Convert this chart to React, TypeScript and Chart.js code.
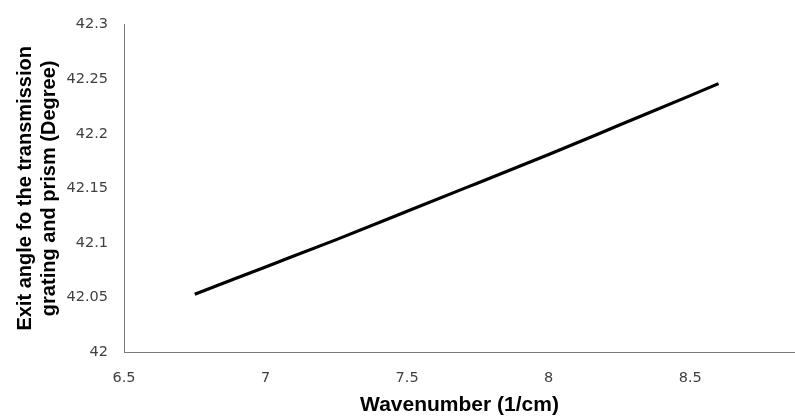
import React, { useEffect, useRef } from "react";
import { Chart, registerables } from "chart.js";

Chart.register(...registerables);

const wavenumbers = [6.75, 7.0, 7.25, 7.5, 7.75, 8.0, 8.25, 8.5, 8.6];
const exitAngles = [42.053, 42.078, 42.103, 42.129, 42.155, 42.181, 42.208, 42.235, 42.246];

const xMin = 6.5;
const xMax = 8.87;
const xStep = 0.5;
const xLastTick = 8.5;
const yMin = 42;
const yMax = 42.3;
const yStep = 0.05;

const xTitle = "Wavenumber (1/cm)";
const yTitle = ["Exit angle fo the transmission", "grating and prism (Degree)"];

export default function App() {
  const ref = useRef<HTMLCanvasElement | null>(null);

  useEffect(() => {
    document.body.style.margin = "0";
    const canvas = ref.current;
    if (!canvas) return;
    const tickFont = { family: "'DejaVu Sans', sans-serif", size: 14.5 };
    const xTitleFont = { family: "'Liberation Sans', Arial, sans-serif", size: 21, weight: "bold" as const, lineHeight: 1.15 };
    const yTitleFont = { family: "'Liberation Sans', Arial, sans-serif", size: 20, weight: "bold" as const, lineHeight: 1.22 };
    const chart = new Chart(canvas, {
      type: "line",
      data: {
        datasets: [
          {
            data: wavenumbers.map((x, i) => ({ x, y: exitAngles[i] })),
            borderColor: "#000000",
            borderWidth: 3.2,
            pointRadius: 0,
            fill: false,
            tension: 0.4,
            cubicInterpolationMode: "monotone",
          },
        ],
      },
      options: {
        responsive: false,
        devicePixelRatio: 1,
        animation: false,
        layout: { padding: { top: 19, left: 0, right: 0, bottom: 0 } },
        plugins: { legend: { display: false }, tooltip: { enabled: false } },
        scales: {
          x: {
            type: "linear",
            min: xMin,
            max: xMax,
            ticks: {
              stepSize: xStep,
              color: "#404040",
              font: tickFont,
              padding: 18,
              maxRotation: 0,
              autoSkip: false,
              callback: (v: any) => String(+Number(v).toFixed(2)),
            },
            afterBuildTicks: (scale: any) => {
              scale.ticks = scale.ticks.filter((t: any) => t.value <= xLastTick + 1e-9);
            },
            afterFit: (scale: any) => {
              scale.height = 65;
            },
            grid: { display: false, drawTicks: false },
            border: { display: true, color: "#7a7a7a", width: 1 },
            title: {
              display: true,
              text: xTitle,
              color: "#000000",
              font: xTitleFont,
              padding: { top: 0, bottom: 0 },
            },
          },
          y: {
            type: "linear",
            min: yMin,
            max: yMax,
            ticks: {
              stepSize: yStep,
              color: "#404040",
              font: tickFont,
              padding: 16,
              callback: (v: any) => String(+Number(v).toFixed(2)),
            },
            afterFit: (scale: any) => {
              scale.width = 124;
            },
            grid: { display: false, drawTicks: false },
            border: { display: true, color: "#7a7a7a", width: 1 },
            title: {
              display: true,
              text: yTitle,
              color: "#000000",
              font: yTitleFont,
              padding: { top: 13, bottom: 0 },
            },
          },
        },
      },
    });
    return () => chart.destroy();
  }, []);

  return (
    <div style={{ width: 795, height: 417, background: "#ffffff" }}>
      <canvas ref={ref} width={795} height={417} style={{ display: "block" }} />
    </div>
  );
}
